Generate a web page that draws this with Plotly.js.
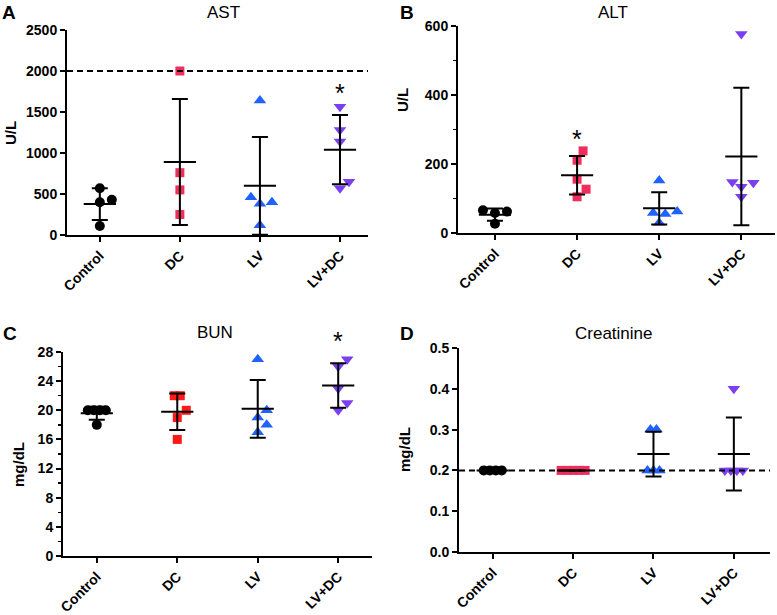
<!DOCTYPE html>
<html>
<head>
<meta charset="utf-8">
<script src="https://cdn.plot.ly/plotly-3.0.1.min.js"></script>
<style>html,body{margin:0;padding:0;background:#fff;}#chart{width:777px;height:615px;}</style>
</head>
<body>
<div id="chart"></div>
<script>
// ---------- DATA ----------
const groups = ['Control', 'DC', 'LV', 'LV+DC'];

const astControl = [570, 430, 400, 110];
const astDC      = [2000, 760, 550, 250];
const astLV      = [1640, 460, 400, 380, 120];
const astLVDC    = [1565, 1280, 1140, 650, 570];

const altControl = [66, 62, 58, 27];
const altDC      = [238, 211, 156, 127, 105];
const altLV      = [152, 62, 58, 55, 30];
const altLVDC    = [577, 148, 146, 134, 105];

const bunControl = [20, 20, 20, 20, 18];
const bunDC      = [22, 22, 20, 19, 16];
const bunLV      = [27, 20, 19, 18, 17];
const bunLVDC    = [27, 26, 23, 21, 20];

const creControl = [0.2, 0.2, 0.2, 0.2];
const creDC      = [0.2, 0.2, 0.2, 0.2, 0.2];
const creLV      = [0.3, 0.3, 0.2, 0.2, 0.2];
const creLVDC    = [0.4, 0.2, 0.2, 0.2, 0.2];

const astRef = 2000;
const creRef = 0.2;
const astStar = 1800;
const altStar = 290;
const bunStar = 30.3;

// ---------- HELPERS ----------
const W = 777, H = 615;
const FONT = 'Liberation Sans, Arial, sans-serif';
function mean(a){ return a.reduce((s,v)=>s+v,0)/a.length; }
function sd(a){ const m=mean(a); if(a.length<2) return 0; return Math.sqrt(a.reduce((s,v)=>s+(v-m)*(v-m),0)/(a.length-1)); }

// simple beeswarm: horizontal offsets (in category units) so markers don't pile up
function swarm(vals, pxPerUnitY, pxPerCat){
  const idx = vals.map((v,i)=>i).sort((a,b)=>vals[a]-vals[b]);
  const placed = [];
  const out = new Array(vals.length).fill(0);
  const step = 3;
  idx.forEach(i=>{
    const py = vals[i]*pxPerUnitY;
    for(let k=0;k<60;k++){
      const n = Math.ceil(k/2), sign = (k%2===1)?1:-1;
      const dx = k===0?0:sign*n*step;
      const ok = placed.every(p=>{
        const dy = Math.abs(p.y-py);
        const minD = dy < 0.5 ? 6 : 10;
        return Math.hypot(p.x-dx, dy) >= minD;
      });
      if(ok){ placed.push({x:dx,y:py,i:i}); out[i]=dx; break; }
    }
  });
  // re-centre rows of identical values so they sit symmetrically
  const seen = {};
  vals.forEach((v,i)=>{ (seen[v] = seen[v] || []).push(i); });
  Object.values(seen).forEach(list=>{
    if(list.length>1){
      const m = list.reduce((s,i)=>s+out[i],0)/list.length;
      list.forEach(i=>{ out[i]-=m; });
    }
  });
  return out.map(d=>d/pxPerCat);
}

const baseColors = ['#000000', '#f02d5c', '#1f62ff', '#7b3ff2'];
const bunColors  = ['#000000', '#ff1a1a', '#1f62ff', '#7b3ff2'];
const symbols = ['circle', 'square', 'triangle-up', 'triangle-down'];
const sizes = [10, 9, 11, 11];

const panels = [
  {key:'', data:[astControl, astDC, astLV, astLVDC], colors:baseColors, title:'AST', letter:'A', ytitle:'U/L',
   xpx:[67,368], ypx:[235,30], yr:[0,2500], dtick:500, minor:null, fmt:'', xr:[-0.41,3.35], ref:astRef,
   star:{x:3,y:astStar}, titlePos:[223,13], letterPos:[9,13], ytPos:[10,133]},
  {key:'2', data:[altControl, altDC, altLV, altLVDC], colors:baseColors, title:'ALT', letter:'B', ytitle:'U/L',
   xpx:[458,775], ypx:[233,26], yr:[0,600], dtick:200, minor:100, fmt:'', xr:[-0.45,3.41], ref:null,
   star:{x:1,y:altStar}, titlePos:[613,13], letterPos:[407,13], ytPos:[402,100]},
  {key:'3', data:[bunControl, bunDC, bunLV, bunLVDC], colors:bunColors, title:'BUN', letter:'C', ytitle:'mg/dL',
   xpx:[63,372], ypx:[556,352], yr:[0,28], dtick:4, minor:2, fmt:'', xr:[-0.42,3.42], ref:null,
   star:{x:3,y:bunStar}, titlePos:[215,332], letterPos:[10,333], ytPos:[18,465]},
  {key:'4', data:[creControl, creDC, creLV, creLVDC], colors:baseColors, title:'Creatinine', letter:'D', ytitle:'mg/dL',
   xpx:[459,770], ypx:[552,348], yr:[0,0.5], dtick:0.1, minor:null, fmt:'.1f', xr:[-0.42,3.45], ref:creRef,
   star:null, titlePos:[614,333], letterPos:[407,333], ytPos:[404,450]}
];

const traces = [];
const layout = {
  width: W, height: H, margin:{l:0,r:0,t:0,b:0}, showlegend:false,
  paper_bgcolor:'#fff', plot_bgcolor:'rgba(0,0,0,0)',
  font:{family:FONT, color:'#000'},
  shapes:[], annotations:[]
};

panels.forEach(p=>{
  const xa = 'x'+p.key, ya = 'y'+p.key;
  const pxPerUnitY = (p.ypx[0]-p.ypx[1])/(p.yr[1]-p.yr[0]);
  const pxPerCat = (p.xpx[1]-p.xpx[0])/(p.xr[1]-p.xr[0]);
  p.data.forEach((vals,g)=>{
    const offs = swarm(vals, pxPerUnitY, pxPerCat);
    traces.push({
      type:'scatter', mode:'markers', xaxis:xa, yaxis:ya, cliponaxis:false,
      x: vals.map((v,i)=>g+offs[i]), y: vals,
      marker:{symbol:symbols[g], size:sizes[g], color:p.colors[g], line:{width:0}},
      hoverinfo:'skip'
    });
  });
  traces.push({
    type:'scatter', mode:'markers', xaxis:xa, yaxis:ya, cliponaxis:false,
    x:[0,1,2,3], y:p.data.map(mean),
    error_y:{type:'data', array:p.data.map(sd), visible:true, color:'#000', thickness:2, width:8},
    marker:{symbol:'line-ew', size:23, color:'#000', line:{width:2, color:'#000'}},
    hoverinfo:'skip'
  });
  const xName = 'xaxis'+p.key, yName = 'yaxis'+p.key;
  const yDom = [1-p.ypx[0]/H, 1-p.ypx[1]/H];
  layout[xName] = {
    domain:[p.xpx[0]/W, p.xpx[1]/W], anchor:ya, range:p.xr, fixedrange:true,
    tickmode:'array', tickvals:[0,1,2,3], ticktext:groups.map(t=>'<b>'+t+'</b>'), tickangle:-45,
    showline:true, linecolor:'#000', linewidth:2, ticks:'outside', ticklen:5, tickwidth:2, tickcolor:'#000',
    showgrid:false, zeroline:false, tickfont:{family:FONT, size:14, color:'#000'}
  };
  const yax = {
    domain:yDom, anchor:xa, range:p.yr, fixedrange:true,
    tickmode:'linear', tick0:0, dtick:p.dtick,
    showline:true, linecolor:'#000', linewidth:2, ticks:'outside', ticklen:5, tickwidth:2, tickcolor:'#000',
    showgrid:false, zeroline:false, tickfont:{family:FONT, size:14, color:'#000', weight:'bold'}
  };
  if(p.fmt) yax.tickformat = p.fmt;
  if(p.minor) yax.minor = {dtick:p.minor, ticks:'outside', ticklen:3, tickwidth:1.5, tickcolor:'#000', showgrid:false};
  layout[yName] = yax;

  if(p.ref!==null){
    layout.shapes.push({type:'line', xref:xa+' domain', yref:ya, x0:0, x1:1, y0:p.ref, y1:p.ref,
      line:{color:'#000', width:2, dash:'6px,4px'}});
  }
  if(p.star){
    // place via paper coordinates so it can sit above the axis range
    const fx = (p.star.x - p.xr[0])/(p.xr[1]-p.xr[0]);
    const fy = (p.star.y - p.yr[0])/(p.yr[1]-p.yr[0]);
    layout.annotations.push({xref:'paper', yref:'paper',
      x: p.xpx[0]/W + fx*(p.xpx[1]-p.xpx[0])/W,
      y: yDom[0] + fy*(yDom[1]-yDom[0]),
      text:'*', showarrow:false, xanchor:'center', yanchor:'middle',
      font:{family:FONT, size:25, color:'#000'}, yshift:-6});
  }
  layout.annotations.push({xref:'paper', yref:'paper', x:p.titlePos[0]/W, y:1-p.titlePos[1]/H, text:p.title,
    showarrow:false, xanchor:'center', yanchor:'middle', font:{family:FONT, size:17, color:'#000'}});
  layout.annotations.push({xref:'paper', yref:'paper', x:p.letterPos[0]/W, y:1-p.letterPos[1]/H, text:'<b>'+p.letter+'</b>',
    showarrow:false, xanchor:'center', yanchor:'middle', font:{family:FONT, size:19, color:'#000'}});
  layout.annotations.push({xref:'paper', yref:'paper', x:p.ytPos[0]/W, y:1-p.ytPos[1]/H, text:'<b>'+p.ytitle+'</b>',
    showarrow:false, textangle:-90, xanchor:'center', yanchor:'middle', font:{family:FONT, size:15, color:'#000'}});
});

Plotly.newPlot('chart', traces, layout, {displayModeBar:false, staticPlot:true});
</script>
</body>
</html>
